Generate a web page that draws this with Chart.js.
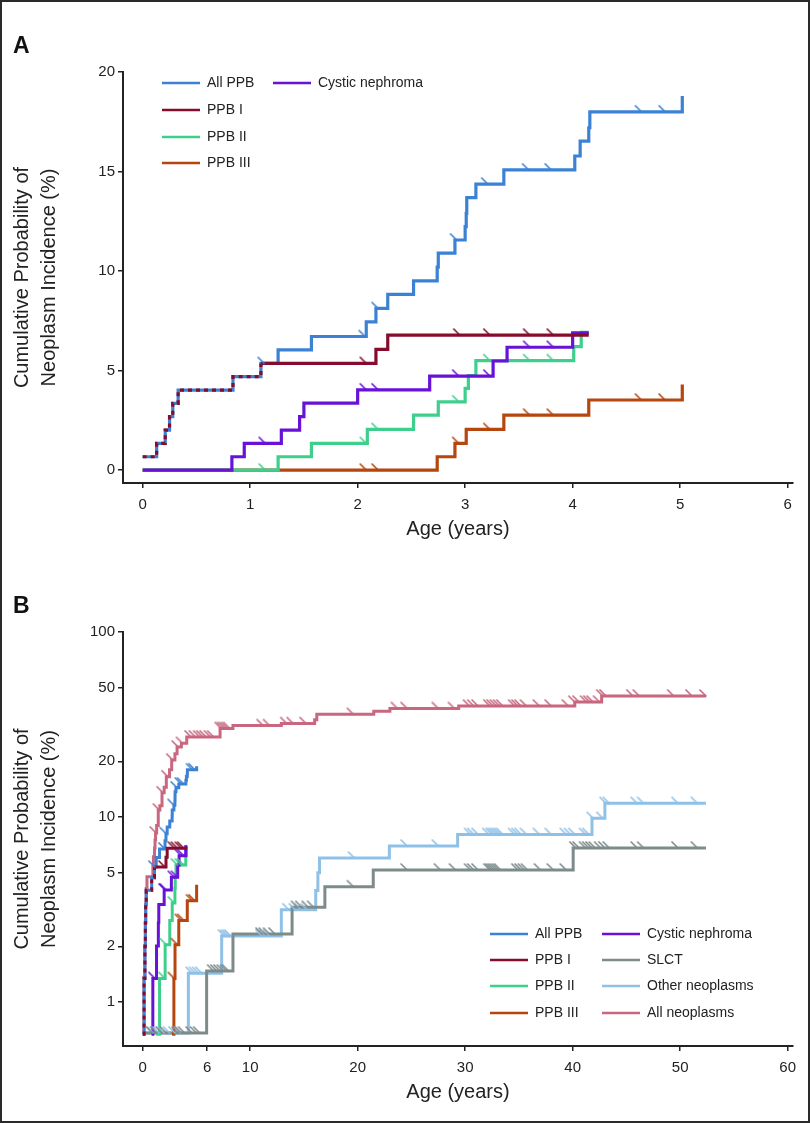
<!DOCTYPE html>
<html>
<head>
<meta charset="utf-8">
<title>Cumulative neoplasm incidence</title>
<script src="https://cdn.jsdelivr.net/npm/chart.js@4.4.1/dist/chart.umd.min.js"></script>
<style>
  html, body { margin: 0; padding: 0; background: #fff; }
  #page { position: relative; width: 810px; height: 1123px; overflow: hidden; }
  #frame { position: absolute; left: 0; top: 0; width: 810px; height: 1123px; box-sizing: border-box; border: 2px solid #2a2a2a; pointer-events: none; }
  canvas { position: absolute; left: 0; }
  #chartA { top: 0; }
  #chartB { top: 560px; }
</style>
</head>
<body>
<div id="page">
  <canvas id="chartA" width="810" height="560"></canvas>
  <canvas id="chartB" width="810" height="563"></canvas>
  <div id="frame"></div>
</div>
<script>
const FONT = "'Liberation Sans', Arial, sans-serif"
Chart.defaults.font.family = FONT
Chart.defaults.color = '#222'

// age in years -> cumulative incidence in %, plus censoring ages
const allPpbAge = [0, 0.13, 0.21, 0.25, 0.28, 0.33, 0.84, 1.10, 1.26, 1.57, 2.08, 2.17, 2.28, 2.52, 2.74, 2.75, 2.905, 3.00, 3.01, 3.015, 3.10, 3.36, 4.02, 4.07, 4.15, 4.16, 5.02]
const allPpbPct = [0.67, 1.34, 2.01, 2.68, 3.35, 4.02, 4.69, 5.36, 6.04, 6.71, 7.45, 8.12, 8.83, 9.51, 10.2, 10.9, 11.56, 12.23, 12.9, 13.69, 14.37, 15.08, 15.78, 16.53, 17.2, 18.0, 18.8]
const allPpbCens = [1.13, 2.07, 2.19, 2.92, 3.21, 3.59, 3.80, 4.64, 4.86]

const ppb1Age = [0, 0.13, 0.21, 0.25, 0.28, 0.33, 0.84, 1.10, 2.17, 2.28, 4.15]
const ppb1Pct = [0.67, 1.34, 2.01, 2.68, 3.35, 4.02, 4.69, 5.36, 6.06, 6.78, 6.78]
const ppb1Cens = [2.08, 2.95, 3.23, 3.60, 3.82]

const ppb2Age = [0, 1.26, 1.57, 2.09, 2.52, 2.75, 3.00, 3.03, 3.10, 4.01, 4.08, 4.15]
const ppb2Pct = [0, 0.67, 1.34, 2.04, 2.76, 3.43, 4.1, 4.75, 5.5, 6.2, 6.92, 6.92]
const ppb2Cens = [1.14, 2.08, 2.19, 2.94, 3.23, 3.60, 3.82]

const ppb3Age = [0, 2.74, 2.905, 3.01, 3.36, 4.15, 5.02]
const ppb3Pct = [0, 0.67, 1.34, 2.04, 2.76, 3.52, 4.3]
const ppb3Cens = [2.08, 2.19, 2.94, 3.23, 3.60, 3.82, 4.64, 4.86]

const cysticAge = [0, 0.83, 0.945, 1.29, 1.46, 1.50, 2.00, 2.67, 3.26, 3.39, 4.00, 4.15]
const cysticPct = [0, 0.67, 1.34, 2.01, 2.68, 3.36, 4.03, 4.72, 5.48, 6.17, 6.9, 6.9]
const cysticCens = [1.14, 2.08, 2.19, 2.94, 3.23, 3.60, 3.82]

const slctAge = [0.2, 5.95, 8.4, 13.9, 16.95, 21.45, 40.05, 52.4]
const slctPct = [0.68, 1.47, 2.33, 3.25, 4.2, 5.17, 6.8, 6.8]
const slctCens = [0.9, 1.3, 1.8, 2.2, 3.3, 3.6, 3.9, 4.6, 5.0, 5.3, 6.6, 6.9, 7.2, 7.5, 7.8, 8.0, 11.1, 11.4, 11.8, 12.3, 14.4, 14.8, 15.4, 15.9, 19.6, 24.6, 27.7, 29.1, 30.5, 30.8, 31.2, 32.3, 32.5, 32.7, 32.9, 33.1, 33.3, 34.9, 35.2, 35.5, 35.8, 37.0, 38.2, 39.4, 40.3, 40.6, 41.2, 41.5, 41.8, 42.1, 42.6, 43.0, 43.4, 46.0, 46.6, 49.8, 51.6]

const otherAge = [0.2, 4.25, 7.35, 12.9, 16.1, 16.3, 16.45, 22.95, 29.3, 41.8, 43.0, 52.4]
const otherPct = [0.68, 1.43, 2.27, 3.15, 4.0, 5.0, 6.0, 6.97, 8.05, 9.84, 11.85, 11.85]
const otherCens = [1.0, 1.5, 2.0, 2.5, 3.0, 3.5, 4.6, 4.9, 5.2, 5.5, 7.6, 7.8, 8.0, 8.2, 11.1, 11.4, 11.8, 13.6, 14.2, 14.7, 15.3, 19.7, 24.6, 27.5, 30.5, 30.8, 31.2, 32.2, 32.5, 32.7, 32.9, 33.1, 33.3, 33.5, 34.6, 34.9, 35.2, 35.7, 36.9, 38.0, 39.4, 39.8, 40.2, 41.2, 41.5, 41.9, 42.8, 43.1, 43.4, 46.0, 46.6, 49.8, 51.6]

const allNeoAge = [0, 0.12, 0.2, 0.25, 0.28, 0.33, 0.4, 0.95, 1.0, 1.1, 1.15, 1.2, 1.3, 1.45, 1.6, 1.8, 2.0, 2.2, 2.5, 2.7, 3.0, 3.2, 3.6, 4.1, 7.2, 8.4, 12.9, 16.0, 16.2, 21.5, 23.0, 29.4, 40.2, 42.7, 52.4]
const allNeoPct = [0.68, 1.36, 2.0, 2.7, 3.4, 4.1, 4.75, 5.4, 6.1, 6.8, 7.5, 8.2, 9.0, 10.9, 11.5, 13.5, 14.5, 16.5, 18.0, 20.3, 22.0, 23.9, 25.0, 27.1, 30.1, 31.2, 32.0, 33.5, 35.9, 37.3, 38.6, 39.8, 41.8, 45.1, 45.1]
const allNeoCens = [1.25, 1.55, 1.9, 2.35, 2.8, 3.3, 3.7, 4.5, 4.9, 5.3, 5.6, 5.9, 6.3, 6.6, 7.3, 7.5, 7.7, 7.9, 8.1, 11.2, 11.8, 13.4, 14.0, 15.2, 19.6, 23.7, 24.6, 27.5, 29.0, 30.4, 30.8, 31.2, 32.3, 32.6, 32.9, 33.2, 33.5, 34.6, 34.9, 35.2, 35.7, 36.9, 38.0, 39.6, 40.2, 40.6, 41.3, 41.6, 41.9, 42.5, 42.8, 43.1, 45.6, 46.2, 49.4, 51.1, 52.4]

const xTicksA = [0, 1, 2, 3, 4, 5, 6]
const yTicksA = [0, 5, 10, 15, 20]
const xTicksB = [0, 6, 10, 20, 30, 40, 50, 60]
const yTicksB = [1, 2, 5, 10, 20, 50, 100]

let allPPB = {name: 'All PPB', age: allPpbAge, pct: allPpbPct, cens: allPpbCens, color: '#3b82d4'}
let ppb1   = {name: 'PPB I', age: ppb1Age, pct: ppb1Pct, cens: ppb1Cens, color: '#850c2c', dashUntil: 1.1}
let ppb2   = {name: 'PPB II', age: ppb2Age, pct: ppb2Pct, cens: ppb2Cens, color: '#3ecf8c'}
let ppb3   = {name: 'PPB III', age: ppb3Age, pct: ppb3Pct, cens: ppb3Cens, color: '#b5460e'}
let cystic = {name: 'Cystic nephroma', age: cysticAge, pct: cysticPct, cens: cysticCens, color: '#6812d8'}
let slct   = {name: 'SLCT', age: slctAge, pct: slctPct, cens: slctCens, color: '#7e8b8b'}
let other  = {name: 'Other neoplasms', age: otherAge, pct: otherPct, cens: otherCens, color: '#8fc1e7'}
let allNeo = {name: 'All neoplasms', age: allNeoAge, pct: allNeoPct, cens: allNeoCens, color: '#c8677f'}


let value_at = function(s, t) {
	let v = s.pct[0]
	s.age.forEach(function(a, i) { if (a <= t) v = s.pct[i] })
	return v
}

// censoring tick: a short "\" ending on the curve
let censor_mark = function(color) {
	let c = document.createElement('canvas')
	c.width = 16; c.height = 16
	let g = c.getContext('2d')
	g.strokeStyle = color
	g.lineWidth = 1.6
	g.beginPath(); g.moveTo(1.5, 1.5); g.lineTo(8.5, 8.5); g.stroke()
	return c
}

let decor_plugin = function(letter, cols, colX, rowY) {
	return {
		id: 'decor' + letter,
		afterDraw: function(chart) {
			let ctx = chart.ctx
			ctx.save()
			ctx.fillStyle = '#111'
			ctx.font = 'bold 23px ' + FONT
			ctx.textBaseline = 'alphabetic'
			ctx.fillText(letter, 13, 53)
			ctx.font = '14px ' + FONT
			ctx.textBaseline = 'middle'
			cols.forEach(function(col, ci) {
				col.forEach(function(s, ri) {
					let x = colX[ci], y = rowY[ri]
					ctx.strokeStyle = s.color
					ctx.lineWidth = 2.5
					ctx.beginPath(); ctx.moveTo(x, y); ctx.lineTo(x + 38, y); ctx.stroke()
					ctx.fillStyle = '#222'
					ctx.fillText(s.name, x + 45, y)
				})
			})
			ctx.restore()
		}
	}
}

let make_chart = function(id, list, p) {
	let datasets = []
	list.forEach(function(s, i) {
		let pts = s.age.map((a, k) => ({x: a, y: s.pct[k]})).filter(pt => !p.log || pt.y > 0)
		let ds = {
			label: s.name, data: pts, borderColor: s.color, borderWidth: p.lineWidth,
			stepped: 'before', pointRadius: 0, fill: false,
			borderJoinStyle: 'miter', borderCapStyle: 'butt', order: i + 1
		}
		if (s.dashUntil) {
			ds.segment = { borderDash: c => c.p1.parsed.x <= s.dashUntil ? [4, 4] : undefined }
		}
		datasets.push(ds)
		let cens = s.cens.map(t => ({x: t, y: value_at(s, t)})).filter(pt => !p.log || pt.y > 0)
		datasets.push({
			label: s.name + ' censored', data: cens, showLine: false,
			pointStyle: censor_mark(s.color), pointRadius: 4, order: 0
		})
	})

	return new Chart(document.getElementById(id).getContext('2d'), {
		type: 'line',
		data: { datasets: datasets },
		options: {
			responsive: false,
			animation: false,
			devicePixelRatio: 1,
			events: [],
			layout: { padding: { left: 0, right: 17, top: 72, bottom: 0 } },
			plugins: { legend: { display: false }, tooltip: { enabled: false } },
			scales: {
				x: {
					type: 'linear', min: p.xMin, max: p.xMax,
					afterBuildTicks: function(scale) { scale.ticks = p.xTicks.map(v => ({value: v})) },
					afterFit: function(scale) { scale.height = 77 },
					grid: { drawOnChartArea: false, tickLength: 5, color: '#222', lineWidth: 1.5 },
					border: { color: '#222', width: 2 },
					ticks: { font: { size: 15 }, color: '#222', padding: 8, maxRotation: 0, autoSkip: false },
					title: { display: true, text: 'Age (years)', font: { size: 20 }, color: '#222', padding: { top: 0, bottom: 19 } }
				},
				y: {
					type: p.log ? 'logarithmic' : 'linear', min: p.yMin, max: p.yMax,
					afterBuildTicks: function(scale) { scale.ticks = p.yTicks.map(v => ({value: v})) },
					afterFit: function(scale) { scale.width = 123 },
					grid: { drawOnChartArea: false, tickLength: 5, color: '#222', lineWidth: 1.5 },
					border: { color: '#222', width: 2 },
					ticks: { font: { size: 15 }, color: '#222', padding: 3, autoSkip: false, callback: v => String(v) },
					title: {
						display: true, text: ['Cumulative Probability of', 'Neoplasm Incidence (%)'],
						font: { size: 20, lineHeight: 1.35 }, color: '#222', padding: { top: 9, bottom: 0 }
					}
				}
			}
		},
		plugins: [decor_plugin(p.letter, p.legendCols, p.legendX, p.legendY)]
	})
}

make_chart('chartA', [ppb1, cystic, ppb2, ppb3, allPPB], {
	letter: 'A', log: false, lineWidth: 3.2,
	xMin: -0.183, xMax: 6.05, yMin: -0.65, yMax: 20,
	xTicks: xTicksA, yTicks: yTicksA,
	legendCols: [[allPPB, ppb1, ppb2, ppb3], [cystic]],
	legendX: [162, 273], legendY: [83, 110, 137, 163]
})

make_chart('chartB', [ppb1, ppb3, cystic, ppb2, allPPB, allNeo, slct, other], {
	letter: 'B', log: true, lineWidth: 3,
	xMin: -1.83, xMax: 60.5, yMin: 0.578, yMax: 100,
	xTicks: xTicksB, yTicks: yTicksB,
	legendCols: [[allPPB, ppb1, ppb2, ppb3], [cystic, slct, other, allNeo]],
	legendX: [490, 602], legendY: [374, 400, 426, 453]
})
</script>
</body>
</html>
